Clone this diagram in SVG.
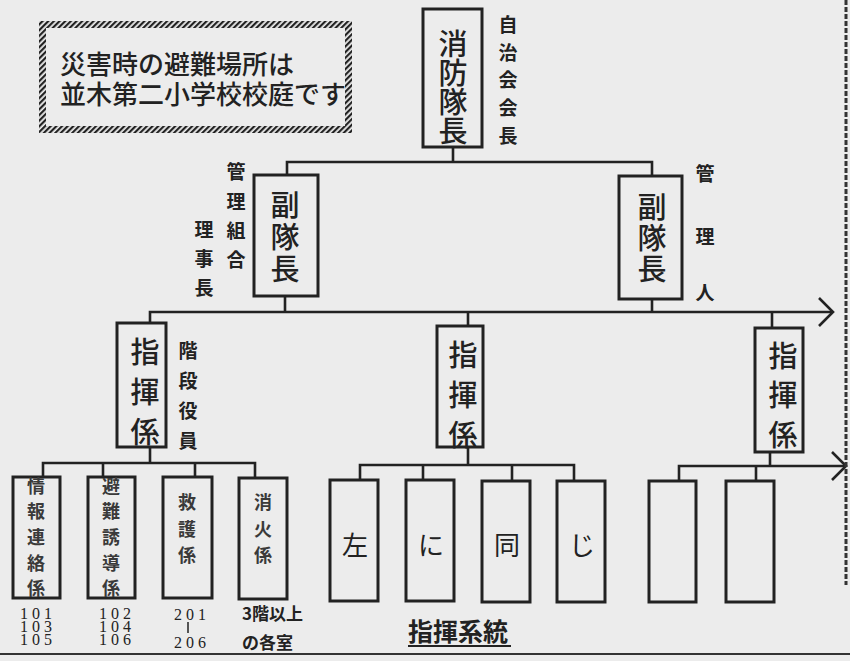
<svg xmlns="http://www.w3.org/2000/svg" width="850" height="661" viewBox="0 0 850 661">
<defs>
<pattern id="rope" width="4" height="4" patternUnits="userSpaceOnUse" patternTransform="rotate(45)"><rect width="2.2" height="4" fill="#222"/></pattern>
<style>
.box{fill:none;stroke:#222;stroke-width:3}
.conn{fill:none;stroke:#222;stroke-width:2.6;stroke-linejoin:miter}
.jp{font-family:"Noto Sans CJK JP","Noto Sans CJK SC",sans-serif;fill:#222}
.big{font-size:29px;font-weight:500;text-anchor:middle}
.lab{font-size:19px;font-weight:700;text-anchor:middle}
.sm{font-size:18px;font-weight:700;text-anchor:middle;fill:#3a3a3a}
.mid{font-size:26px;font-weight:400;text-anchor:middle}
.num{font-family:"Liberation Serif","Noto Sans CJK JP",serif;font-size:16px;fill:#222;text-anchor:middle;letter-spacing:4px}
</style>
</defs>
<rect width="850" height="661" fill="#ececec"/>

<g id="notice">
<rect x="42.5" y="24.5" width="306" height="105" fill="none" stroke="url(#rope)" stroke-width="7"/>
<text class="jp" x="60" y="74" font-size="26" font-weight="500">災害時の避難場所は</text>
<text class="jp" x="60" y="104" font-size="26" font-weight="500">並木第二小学校校庭です</text>
</g>

<g id="connectors">
<path class="conn" d="M453 147V162M287 175V162H652V176"/>
<path class="conn" d="M285 296V312M652 299V312M150 323V312H833M468 312V326M772 312V328"/>
<path class="conn" d="M819 298L833 312L819 326"/>
<path class="conn" d="M150 447V463M43 477V463H255V478M103 463V477M195 463V477"/>
<path class="conn" d="M468 447V465M360 480V465H574V481M423 465V480M512 465V481"/>
<path class="conn" d="M770 452V466M679 481V466H846M756 466V481"/>
<path class="conn" d="M832 452L846 466L832 480"/>
</g>

<g id="chief">
<rect class="box" x="423" y="9" width="59" height="138"/>
<text class="jp big"><tspan x="453" y="55">消</tspan><tspan x="453" y="84">防</tspan><tspan x="453" y="113">隊</tspan><tspan x="453" y="142">長</tspan></text>
<text class="jp lab"><tspan x="508" y="32">自</tspan><tspan x="508" y="60">治</tspan><tspan x="508" y="87">会</tspan><tspan x="508" y="115">会</tspan><tspan x="508" y="143">長</tspan></text>
</g>

<g id="vice-left">
<rect class="box" x="254" y="175" width="64" height="121"/>
<text class="jp big"><tspan x="285" y="216">副</tspan><tspan x="285" y="248">隊</tspan><tspan x="285" y="280">長</tspan></text>
<text class="jp lab"><tspan x="236" y="179">管</tspan><tspan x="236" y="209">理</tspan><tspan x="236" y="238">組</tspan><tspan x="236" y="267">合</tspan><tspan x="204" y="237">理</tspan><tspan x="204" y="266">事</tspan><tspan x="204" y="295">長</tspan></text>
</g>

<g id="vice-right">
<rect class="box" x="619" y="176" width="63" height="123"/>
<text class="jp big"><tspan x="652" y="218">副</tspan><tspan x="652" y="249">隊</tspan><tspan x="652" y="280">長</tspan></text>
<text class="jp lab"><tspan x="705" y="181">管</tspan><tspan x="705" y="244">理</tspan><tspan x="705" y="300">人</tspan></text>
</g>

<g id="cmd-left">
<rect class="box" x="117" y="323" width="49" height="124"/>
<text class="jp big"><tspan x="145" y="363">指</tspan><tspan x="145" y="403">揮</tspan><tspan x="145" y="443">係</tspan></text>
<text class="jp lab"><tspan x="188" y="358">階</tspan><tspan x="188" y="388">段</tspan><tspan x="188" y="418">役</tspan><tspan x="188" y="448">員</tspan></text>
</g>

<g id="cmd-mid">
<rect class="box" x="437" y="326" width="46" height="121"/>
<text class="jp big"><tspan x="463" y="366">指</tspan><tspan x="463" y="406">揮</tspan><tspan x="463" y="446">係</tspan></text>
</g>

<g id="cmd-right">
<rect class="box" x="755" y="328" width="48" height="124"/>
<text class="jp big"><tspan x="783" y="367">指</tspan><tspan x="783" y="406">揮</tspan><tspan x="783" y="446">係</tspan></text>
</g>

<g id="info">
<rect class="box" x="13" y="477" width="47" height="121"/>
<text class="jp sm"><tspan x="36" y="493">情</tspan><tspan x="36" y="518">報</tspan><tspan x="36" y="544">連</tspan><tspan x="36" y="570">絡</tspan><tspan x="36" y="595">係</tspan></text>
<text class="num"><tspan x="38" y="619">101</tspan><tspan x="38" y="632">103</tspan><tspan x="38" y="645">105</tspan></text>
</g>

<g id="evac">
<rect class="box" x="88" y="477" width="47" height="121"/>
<text class="jp sm"><tspan x="111" y="493">避</tspan><tspan x="111" y="518">難</tspan><tspan x="111" y="544">誘</tspan><tspan x="111" y="570">導</tspan><tspan x="111" y="595">係</tspan></text>
<text class="num"><tspan x="117" y="619">102</tspan><tspan x="117" y="632">104</tspan><tspan x="117" y="645">106</tspan></text>
</g>

<g id="rescue">
<rect class="box" x="163" y="477" width="49" height="121"/>
<text class="jp sm"><tspan x="187" y="509">救</tspan><tspan x="187" y="536">護</tspan><tspan x="187" y="562">係</tspan></text>
<text class="num" font-size="18" letter-spacing="7"><tspan x="192" y="620">201</tspan><tspan x="192" y="648">206</tspan></text>
<path d="M188 622V633" stroke="#222" stroke-width="1.5"/>
</g>

<g id="fire">
<rect class="box" x="239" y="478" width="48" height="121"/>
<text class="jp sm"><tspan x="263" y="509">消</tspan><tspan x="263" y="536">火</tspan><tspan x="263" y="562">係</tspan></text>
<text class="jp" font-size="17" font-weight="700" fill="#333"><tspan x="242" y="620">3階以上</tspan><tspan x="242" y="649">の各室</tspan></text>
</g>

<g id="same-1"><rect class="box" x="330" y="480" width="48" height="121"/><text class="jp mid" x="355" y="555">左</text></g>
<g id="same-2"><rect class="box" x="406" y="480" width="48" height="121"/><text class="jp mid" x="431" y="555">に</text></g>
<g id="same-3"><rect class="box" x="482" y="481" width="48" height="121"/><text class="jp mid" x="507" y="555">同</text></g>
<g id="same-4"><rect class="box" x="557" y="481" width="48" height="121"/><text class="jp mid" x="582" y="555">じ</text></g>

<g id="empty-1"><rect class="box" x="649" y="481" width="47" height="121"/></g>
<g id="empty-2"><rect class="box" x="726" y="481" width="48" height="121"/></g>

<g id="title">
<text class="jp" x="408" y="641" font-size="25" font-weight="700">指揮系統</text>
<path d="M408 646H511" stroke="#222" stroke-width="2"/>
</g>

<g id="rules">
<path d="M0 654H850" stroke="#333" stroke-width="2"/>
<path d="M846 0V585" stroke="#333" stroke-width="3" stroke-dasharray="5 2"/>
</g>
</svg>
